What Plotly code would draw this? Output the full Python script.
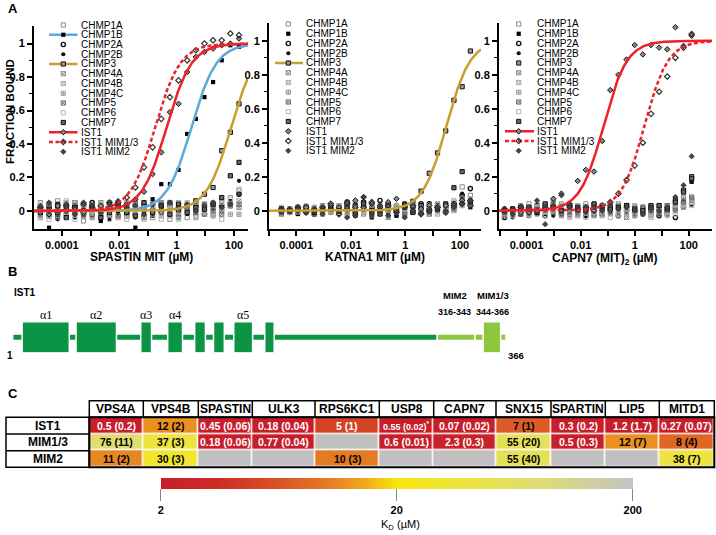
import numpy as np
import plotly.graph_objects as go

W, H = 716, 535
FONT = "Liberation Sans, Arial, sans-serif"
SERIF = "Liberation Serif, Times New Roman, serif"

# ---------------- Panel A data ----------------
series_names = ["CHMP1A", "CHMP1B", "CHMP2A", "CHMP2B", "CHMP3", "CHMP4A", "CHMP4B",
                "CHMP4C", "CHMP5", "CHMP6", "CHMP7", "IST1", "IST1 MIM1/3", "IST1 MIM2"]

conc_spastin = [1.79e-05, 3.58e-05, 7.15e-05, 0.000143, 0.000286, 0.000572, 0.00114, 0.00229,
                0.00458, 0.00916, 0.0183, 0.0366, 0.0732, 0.146, 0.293, 0.586, 1.17, 2.34,
                4.69, 9.38, 18.75, 37.5, 75.0, 150.0]
conc_katna1 = [2.86e-05, 5.72e-05, 0.000114, 0.000229, 0.000458, 0.000916, 0.00183, 0.00366,
               0.00732, 0.0146, 0.0293, 0.0586, 0.117, 0.234, 0.469, 0.9375, 1.875, 3.75,
               7.5, 15.0, 30.0, 60.0, 120.0, 240.0]
conc_capn7 = [1.53e-05, 3.05e-05, 6.1e-05, 0.000122, 0.000244, 0.000488, 0.000977, 0.00195,
              0.0039, 0.0078, 0.0156, 0.03125, 0.0625, 0.125, 0.25, 0.5, 1.0, 2.0, 4.0, 8.0,
              16.0, 32.0, 64.0, 128.0]

# SPASTIN MIT
sp_chmp1a = [0.05, 0.04, 0.06, 0.03, 0.05, -0.06, 0.04, 0.03, 0.05, 0.04, -0.03, 0.02, 0.04, -0.04, 0.05, -0.05, 0.03, -0.04, -0.03, 0.04, 0.02, 0.06, 0.08, 0.12]
sp_chmp1b = [0.0, -0.1, -0.02, 0.01, -0.03, 0.0, -0.01, -0.06, 0.02, 0.0, 0.03, -0.1, 0.0, 0.07, 0.16, 0.16, 0.245, 0.46, 0.55, 0.68, 0.77, 0.9, 0.99, 0.98]
sp_chmp2a = [0.02, -0.03, 0.04, 0.0, 0.03, -0.02, 0.05, 0.01, -0.03, 0.04, 0.02, -0.02, 0.03, 0.01, -0.01, 0.04, 0.0, 0.02, 0.03, -0.02, 0.04, 0.03, 0.05, 0.1]
sp_chmp2b = [-0.03, -0.01, -0.05, 0.02, -0.04, 0.01, -0.03, 0.0, -0.05, -0.02, 0.01, -0.04, 0.0, -0.03, 0.02, -0.01, 0.01, -0.02, 0.0, 0.02, 0.01, 0.03, 0.06, 0.18]
sp_chmp3 = [0.01, 0.03, -0.02, 0.02, 0.0, 0.03, -0.02, 0.01, 0.04, 0.02, -0.01, 0.03, 0.02, 0.0, 0.04, 0.03, 0.01, 0.03, 0.06, 0.1, 0.14, 0.36, 0.47, 0.64]
sp_chmp4a = [-0.02, 0.04, 0.01, -0.03, 0.05, 0.02, -0.04, 0.05, 0.0, 0.03, -0.03, 0.04, 0.01, -0.02, 0.05, 0.0, -0.03, 0.04, 0.01, -0.02, 0.03, 0.0, 0.04, 0.02]
sp_chmp4b = [0.03, -0.03, 0.02, 0.05, -0.02, 0.04, 0.02, -0.03, 0.03, -0.04, 0.04, 0.0, -0.03, 0.04, 0.02, -0.03, 0.05, 0.01, -0.04, 0.03, -0.02, 0.05, 0.03, 0.06]
sp_chmp4c = [-0.04, 0.0, 0.03, -0.02, 0.01, 0.04, -0.01, 0.02, -0.02, 0.01, 0.05, -0.02, 0.02, 0.04, -0.03, 0.02, -0.02, 0.0, 0.04, 0.01, -0.03, 0.01, -0.02, -0.02]
sp_chmp5 = [0.01, 0.02, -0.04, 0.04, -0.01, -0.03, 0.03, -0.02, 0.01, -0.03, 0.0, 0.05, -0.04, 0.02, 0.0, 0.05, -0.04, 0.02, -0.01, 0.04, 0.0, -0.02, 0.03, 0.04]
sp_chmp6 = [0.04, -0.05, 0.0, 0.06, -0.05, 0.03, 0.0, 0.04, -0.05, 0.02, -0.05, 0.01, -0.05, 0.03, -0.05, 0.01, -0.05, 0.05, -0.04, 0.0, 0.05, -0.05, 0.07, 0.13]
sp_chmp7 = [-0.01, 0.01, 0.03, -0.04, 0.02, 0.0, 0.02, -0.04, -0.01, 0.03, -0.01, -0.03, 0.05, -0.01, 0.03, -0.02, 0.04, -0.01, 0.02, 0.01, 0.04, 0.08, 0.21, 0.29]
sp_ist1 = [0.01, -0.02, 0.03, 0.0, 0.02, -0.01, 0.03, 0.0, 0.02, 0.01, 0.04, 0.07, 0.115, 0.22, 0.35, 0.59, 0.64, 0.83, 0.92, 0.95, 0.97, 0.99, 1.0, 1.03]
sp_mim13 = [0.02, 0.0, -0.01, 0.03, 0.01, 0.04, 0.02, 0.03, 0.05, 0.05, 0.08, 0.14, 0.26, 0.38, 0.55, 0.68, 0.78, 0.9, 0.96, 1.0, 1.02, 1.02, 1.06, 1.05]
sp_mim2 = [0.03, 0.05, 0.0, 0.04, -0.02, 0.05, 0.03, -0.01, 0.04, 0.06, 0.02, 0.03, -0.02, 0.04, 0.03, 0.05, 0.02, 0.04, 0.0, 0.03, 0.05, 0.02, 0.04, 0.1]

# KATNA1 MIT
ka_chmp1a = [0.01, 0.0, 0.02, 0.01, 0.0, 0.03, 0.02, 0.03, 0.01, 0.04, -0.01, 0.02, 0.0, 0.03, -0.02, 0.02, 0.03, 0.01, 0.02, 0.0, 0.03, 0.05, 0.14, 0.09]
ka_chmp1b = [-0.01, 0.0, -0.02, 0.01, -0.01, 0.0, 0.01, -0.02, 0.0, -0.03, 0.01, -0.04, 0.0, -0.02, -0.03, 0.0, 0.01, -0.01, 0.02, 0.0, -0.01, 0.03, 0.06, 0.02]
ka_chmp2a = [0.0, -0.01, 0.01, 0.0, -0.02, 0.01, -0.01, 0.02, 0.05, 0.03, 0.05, 0.02, 0.06, 0.04, 0.03, 0.04, -0.01, 0.04, 0.04, 0.03, 0.02, 0.04, 0.09, 0.13]
ka_chmp2b = [0.0, 0.01, 0.0, -0.01, 0.01, 0.0, 0.02, 0.0, -0.01, 0.02, 0.0, -0.02, 0.01, 0.0, -0.02, 0.01, 0.0, 0.02, 0.01, 0.0, 0.02, 0.04, 0.1, 0.03]
ka_chmp3 = [0.0, 0.01, 0.0, 0.02, 0.01, 0.0, 0.02, 0.01, 0.03, 0.0, 0.02, 0.01, 0.0, 0.02, 0.01, 0.03, 0.055, 0.115, 0.22, 0.34, 0.47, 0.65, 0.73, 0.94]
ka_chmp4a = [0.01, -0.01, 0.02, 0.0, 0.01, -0.02, 0.03, 0.0, -0.03, 0.02, -0.02, 0.03, 0.0, -0.04, 0.02, -0.01, 0.03, 0.0, -0.01, 0.04, 0.0, 0.02, 0.04, 0.06]
ka_chmp4b = [-0.01, 0.01, -0.01, 0.02, 0.0, 0.01, -0.01, 0.03, 0.0, -0.02, 0.03, -0.01, 0.02, 0.0, 0.03, -0.03, 0.01, 0.02, 0.0, -0.02, 0.01, 0.0, 0.05, 0.04]
ka_chmp4c = [0.0, 0.0, 0.01, -0.01, 0.02, 0.0, -0.01, 0.01, 0.02, 0.0, -0.01, 0.0, 0.03, 0.0, -0.01, 0.0, 0.02, -0.01, 0.01, 0.02, 0.0, 0.03, 0.03, 0.05]
ka_chmp5 = [-0.02, 0.0, -0.01, 0.0, -0.02, 0.02, 0.0, -0.01, 0.02, -0.01, 0.01, -0.03, 0.02, 0.01, 0.0, -0.02, 0.02, 0.0, -0.02, 0.01, 0.03, 0.01, 0.07, 0.05]
ka_chmp6 = [0.02, 0.01, 0.0, 0.03, 0.0, 0.02, 0.0, -0.01, 0.03, 0.01, 0.0, 0.04, -0.01, 0.02, 0.0, 0.01, 0.02, 0.01, 0.03, 0.02, 0.0, 0.06, 0.03, 0.07]
ka_chmp7 = [0.01, 0.0, 0.01, 0.02, -0.01, 0.01, 0.01, 0.0, 0.02, -0.02, 0.04, 0.0, -0.02, 0.03, 0.0, 0.02, -0.01, 0.03, 0.0, 0.01, 0.04, 0.135, 0.23, 0.05]
ka_ist1 = [0.0, 0.01, 0.0, 0.02, 0.01, 0.0, 0.03, 0.02, 0.05, 0.06, 0.08, 0.04, 0.02, 0.05, 0.07, 0.03, 0.02, 0.01, 0.03, 0.02, 0.03, 0.04, 0.06, 0.06]
ka_mim13 = [0.01, 0.0, 0.02, -0.01, 0.0, 0.02, 0.04, -0.02, 0.04, 0.02, 0.02, 0.05, 0.0, 0.03, -0.01, 0.02, 0.03, -0.02, 0.0, 0.02, -0.01, 0.03, 0.04, 0.03]
ka_mim2 = [-0.01, 0.0, 0.01, -0.01, 0.0, -0.02, 0.01, 0.0, -0.04, -0.03, 0.08, -0.02, 0.03, -0.03, 0.0, -0.04, 0.0, -0.02, 0.01, 0.02, 0.0, 0.02, 0.04, 0.06]

# CAPN7 (MIT)2
ca_chmp1a = [-0.02, 0.0, 0.03, 0.04, -0.01, 0.03, 0.02, 0.04, 0.0, 0.02, 0.04, -0.01, 0.03, 0.0, 0.04, 0.03, 0.02, 0.01, 0.0, 0.03, 0.0, 0.02, 0.05, 0.07]
ca_chmp1b = [-0.03, -0.02, -0.01, -0.03, 0.0, -0.02, 0.01, -0.01, -0.02, 0.0, -0.03, 0.01, 0.0, -0.02, 0.01, -0.01, 0.0, 0.02, 0.0, -0.01, 0.02, 0.05, 0.11, 0.17]
ca_chmp2a = [-0.04, -0.03, 0.0, -0.02, 0.01, -0.03, 0.0, -0.02, 0.02, -0.01, -0.03, 0.0, -0.02, 0.01, -0.03, 0.0, -0.01, -0.02, 0.0, -0.03, -0.02, -0.04, 0.02, 0.04]
ca_chmp2b = [-0.02, -0.04, -0.02, 0.0, -0.02, 0.0, -0.03, 0.0, -0.01, -0.02, 0.0, -0.01, 0.0, -0.02, 0.0, 0.0, -0.02, 0.0, -0.01, -0.02, 0.0, 0.0, 0.06, 0.17]
ca_chmp3 = [-0.01, 0.0, -0.02, 0.02, 0.03, 0.01, 0.04, 0.03, 0.02, 0.0, 0.02, 0.03, -0.01, 0.04, 0.02, 0.03, 0.0, 0.02, 0.03, 0.01, 0.0, 0.06, 0.12, 0.2]
ca_chmp4a = [-0.02, 0.01, -0.01, 0.0, 0.02, -0.01, 0.05, -0.03, 0.03, -0.02, 0.01, -0.03, 0.02, -0.01, 0.03, -0.04, 0.02, 0.0, -0.02, 0.02, 0.01, 0.03, 0.08, 0.06]
ca_chmp4b = [0.0, -0.02, 0.01, -0.03, 0.0, 0.02, 0.03, 0.01, -0.02, 0.03, -0.01, 0.02, -0.03, 0.03, 0.0, -0.02, 0.03, -0.02, 0.01, -0.01, 0.03, 0.01, 0.04, 0.05]
ca_chmp4c = [-0.03, -0.01, 0.0, 0.01, -0.02, 0.0, 0.02, 0.0, 0.01, -0.03, 0.02, 0.0, -0.02, 0.02, -0.03, 0.01, -0.02, 0.02, -0.03, 0.0, -0.02, 0.02, 0.03, 0.06]
ca_chmp5 = [-0.01, -0.02, 0.02, -0.01, 0.01, 0.03, -0.01, 0.02, -0.03, 0.01, 0.0, -0.02, 0.01, 0.02, -0.02, 0.02, -0.03, 0.01, 0.02, -0.02, 0.03, 0.0, 0.05, 0.08]
ca_chmp6 = [0.01, -0.03, 0.0, -0.02, 0.04, -0.03, 0.0, 0.03, -0.04, 0.02, -0.04, -0.01, 0.0, -0.04, -0.02, 0.01, -0.03, -0.01, -0.04, 0.02, -0.03, -0.02, 0.02, 0.03]
ca_chmp7 = [0.0, 0.01, 0.02, 0.01, -0.01, 0.04, 0.02, 0.0, 0.03, 0.02, 0.01, 0.04, 0.02, 0.01, 0.02, 0.03, 0.01, 0.0, 0.02, 0.03, 0.01, 0.05, 0.11, 0.19]
ca_ist1 = [0.0, 0.01, -0.01, 0.02, 0.0, 0.02, 0.07, 0.1, 0.04, 0.175, 0.24, 0.23, 0.41, 0.71, 0.8, 0.89, 0.975, 0.92, 0.975, 0.96, 0.95, 1.08, 0.97, 1.03]
ca_mim13 = [0.01, 0.0, 0.02, -0.01, 0.0, 0.01, 0.02, 0.0, 0.03, 0.01, 0.02, 0.0, 0.03, 0.05, 0.1, 0.18, 0.265, 0.4, 0.57, 0.7, 0.79, 0.9, 0.96, 1.04]
ca_mim2 = [0.0, -0.02, 0.02, 0.01, 0.06, -0.08, 0.03, 0.09, 0.02, 0.0, -0.01, 0.02, 0.0, 0.03, 0.01, 0.02, 0.0, -0.02, 0.01, 0.0, 0.02, 0.08, 0.15, 0.32]

# Kd values of the fitted binding curves (uM)
fit_kd_spastin = {"CHMP1B": 3.3, "CHMP3": 80.0, "IST1": 0.45, "IST1 MIM1/3": 0.18}
fit_kd_katna1 = {"CHMP3": 32.0}
fit_kd_capn7 = {"IST1": 0.07, "IST1 MIM1/3": 2.3}

labeled_decades = [1e-4, 1e-2, 1, 100]
labeled_decade_text = ["0.0001", "0.01", "1", "100"]
other_decades = [1e-5, 1e-3, 1e-1, 10]
y_tick_vals = [0, 0.2, 0.4, 0.6, 0.8, 1.0]
y_tick_text = ["0", "0.2", "0.4", "0.6", "0.8", "1"]

# ---------------- Panel B data ----------------
ist1_length = 366
helix_starts = [8, 48, 96, 116, 136, 150, 165, 188]
helix_ends = [42, 77, 103, 126, 143, 157, 178, 194]
helix_labels = ["α1", "α2", "α3", "α4", "", "", "α5", ""]
mim2_range = [316, 343]
mim13_range = [344, 366]
mim13_box = [350, 362]

# ---------------- Panel C data ----------------
kd_columns = ["VPS4A", "VPS4B", "SPASTIN", "ULK3", "RPS6KC1", "USP8", "CAPN7", "SNX15",
              "SPARTIN", "LIP5", "MITD1"]
kd_rows = ["IST1", "MIM1/3", "MIM2"]
kd_ist1 = [0.5, 12, 0.45, 0.18, 5, 0.55, 0.07, 7, 0.3, 1.2, 0.27]
kd_ist1_err = [0.2, 2, 0.06, 0.04, 1, 0.02, 0.02, 1, 0.2, 1.7, 0.07]
kd_mim13 = [76, 37, 0.18, 0.77, None, 0.6, 2.3, 55, 0.5, 12, 8]
kd_mim13_err = [11, 3, 0.06, 0.04, None, 0.01, 0.3, 20, 0.3, 7, 4]
kd_mim2 = [11, 30, None, None, 10, None, None, 55, None, None, 38]
kd_mim2_err = [2, 3, None, None, 3, None, None, 40, None, None, 7]
colorbar_ticks = [2, 20, 200]

# ---------------- styles ----------------
RED = "#ee2128"
BLUE = "#5ba8dc"
GOLD = "#c6a02c"
MS = 4.2
marker_styles = {
    "CHMP1A": dict(symbol="square-open", color="#8a8a8a", line=dict(width=1)),
    "CHMP1B": dict(symbol="square", color="#000000"),
    "CHMP2A": dict(symbol="circle-open", color="#111111", line=dict(width=1.4)),
    "CHMP2B": dict(symbol="circle", color="#111111"),
    "CHMP3": dict(symbol="square", color="#9a9a9a", line=dict(color="#111111", width=1)),
    "CHMP4A": dict(symbol="square-x-open", color="#8a8a8a", line=dict(width=1)),
    "CHMP4B": dict(symbol="square-x-open", color="#a8a8a8", line=dict(width=1)),
    "CHMP4C": dict(symbol="square-cross-open", color="#999999", line=dict(width=1)),
    "CHMP5": dict(symbol="square-x-open", color="#6a6a6a", line=dict(width=1)),
    "CHMP6": dict(symbol="square-open", color="#b4b4b4", line=dict(width=1)),
    "CHMP7": dict(symbol="square", color="#666666", line=dict(color="#111111", width=1)),
    "IST1": dict(symbol="diamond", color="#888888", line=dict(color="#111111", width=1)),
    "IST1 MIM1/3": dict(symbol="diamond-open", color="#333333", line=dict(width=1.2)),
    "IST1 MIM2": dict(symbol="diamond", color="#444444", line=dict(color="#111111", width=0.5)),
}
curve_styles = {
    "CHMP1B": dict(color=BLUE, width=2.5),
    "CHMP3": dict(color=GOLD, width=2.5),
    "IST1": dict(color=RED, width=2.5),
    "IST1 MIM1/3": dict(color=RED, width=2.5, dash="4px,2.5px"),
}


def px_x(px):
    return px / W


def px_y(py):
    return 1 - py / H


panels = [
    dict(conc=conc_spastin,
         values=dict(zip(series_names, [sp_chmp1a, sp_chmp1b, sp_chmp2a, sp_chmp2b, sp_chmp3, sp_chmp4a,
                                        sp_chmp4b, sp_chmp4c, sp_chmp5, sp_chmp6, sp_chmp7, sp_ist1,
                                        sp_mim13, sp_mim2])),
         fits=fit_kd_spastin, xr=[-4.97, 2.49], dx=(34, 248), dy=(229, 26),
         leg=dict(y0=25, dy=9.75, mx=63.3, lx0=49, lx1=77.5, tx=78.5),
         title="SPASTIN MIT (µM)", tx=141, ty=257),
    dict(conc=conc_katna1,
         values=dict(zip(series_names, [ka_chmp1a, ka_chmp1b, ka_chmp2a, ka_chmp2b, ka_chmp3, ka_chmp4a,
                                        ka_chmp4b, ka_chmp4c, ka_chmp5, ka_chmp6, ka_chmp7, ka_ist1,
                                        ka_mim13, ka_mim2])),
         fits=fit_kd_katna1, xr=[-5.0, 2.77], dx=(269, 481), dy=(229, 23),
         leg=dict(y0=24, dy=9.75, mx=288.3, lx0=275, lx1=303, tx=304),
         title="KATNA1 MIT (µM)", tx=375, ty=257),
    dict(conc=conc_capn7,
         values=dict(zip(series_names, [ca_chmp1a, ca_chmp1b, ca_chmp2a, ca_chmp2b, ca_chmp3, ca_chmp4a,
                                        ca_chmp4b, ca_chmp4c, ca_chmp5, ca_chmp6, ca_chmp7, ca_ist1,
                                        ca_mim13, ca_mim2])),
         fits=fit_kd_capn7, xr=[-5.02, 2.86], dx=(499, 712), dy=(229, 23),
         leg=dict(y0=24, dy=9.75, mx=518.7, lx0=505, lx1=534, tx=535),
         title="CAPN7 (MIT)<sub>2</sub> (µM)", tx=605, ty=259),
]

fig = go.Figure()
layout_axes = {}
annotations = []
shapes = []


def ann(text, x, y, size=11, bold=False, xanchor="center", yanchor="middle", color="black",
        family=FONT, angle=0):
    return dict(text=text, x=px_x(x), y=px_y(y), xref="paper", yref="paper", showarrow=False,
                font=dict(size=size, color=color, family=family, weight="bold" if bold else "normal"),
                xanchor=xanchor, yanchor=yanchor, textangle=angle)


tickfont = dict(family=FONT, size=11, color="black", weight="bold")
for i, p in enumerate(panels):
    sfx = "" if i == 0 else str(i + 1)
    xa, ya = "x" + sfx, "y" + sfx
    layout_axes["xaxis" + sfx] = dict(
        domain=[px_x(p["dx"][0]), px_x(p["dx"][1])], anchor=ya, type="log", range=p["xr"],
        showline=True, linecolor="black", linewidth=2, ticks="outside", ticklen=5, tickwidth=1.5,
        tickcolor="black", tickvals=labeled_decades, ticktext=labeled_decade_text, tickfont=tickfont,
        showgrid=False, zeroline=False,
        minor=dict(tickvals=other_decades, ticks="outside", ticklen=5, tickwidth=1.5,
                   tickcolor="black", showgrid=False))
    layout_axes["yaxis" + sfx] = dict(
        domain=[px_y(p["dy"][0]), px_y(p["dy"][1])], anchor=xa, range=[-0.108, 1.105],
        showline=True, linecolor="black", linewidth=2, ticks="outside", ticklen=5, tickwidth=1.5,
        tickcolor="black", tickvals=y_tick_vals, ticktext=y_tick_text, tickfont=tickfont,
        showgrid=False, zeroline=False,
        minor=dict(tickvals=[0.1, 0.3, 0.5, 0.7, 0.9], ticks="outside", ticklen=3, tickwidth=1,
                   tickcolor="black", showgrid=False))
    # data points
    for name in series_names:
        st = dict(marker_styles[name])
        st.setdefault("size", MS)
        fig.add_trace(go.Scatter(x=p["conc"], y=p["values"][name], mode="markers", marker=st,
                                 xaxis=xa, yaxis=ya, showlegend=False, hoverinfo="skip"))
    # fitted binding curves
    xs = np.logspace(p["xr"][0], p["xr"][1], 300)
    for name, kd in p["fits"].items():
        fig.add_trace(go.Scatter(x=xs, y=xs / (kd + xs), mode="lines", line=curve_styles[name],
                                 xaxis=xa, yaxis=ya, showlegend=False, hoverinfo="skip"))
    # legend (drawn on the pixel overlay axis)
    lg = p["leg"]
    for j, name in enumerate(series_names):
        yy = lg["y0"] + j * lg["dy"]
        if name in p["fits"]:
            fig.add_trace(go.Scatter(x=[lg["lx0"], lg["lx1"]], y=[yy, yy], mode="lines",
                                     line=curve_styles[name], xaxis="x4", yaxis="y4",
                                     showlegend=False, hoverinfo="skip"))
        st = dict(marker_styles[name])
        st.setdefault("size", MS)
        fig.add_trace(go.Scatter(x=[lg["mx"]], y=[yy], mode="markers", marker=st, xaxis="x4",
                                 yaxis="y4", showlegend=False, hoverinfo="skip"))
        annotations.append(ann(name, lg["tx"], yy, size=10, xanchor="left"))
    annotations.append(ann(p["title"], p["tx"], p["ty"], size=12, bold=True))

annotations.append(ann("FRACTION BOUND", 10, 112, size=11.5, bold=True, angle=-90))
annotations.append(ann("A", 6, 9, size=13, bold=True, xanchor="left"))
annotations.append(ann("B", 6, 271, size=13, bold=True, xanchor="left"))
annotations.append(ann("C", 6, 393, size=13, bold=True, xanchor="left"))

# pixel overlay axis
layout_axes["xaxis4"] = dict(domain=[0, 1], range=[0, W], visible=False, anchor="y4", fixedrange=True)
layout_axes["yaxis4"] = dict(domain=[0, 1], range=[H, 0], visible=False, anchor="x4", fixedrange=True)

# ---------------- Panel B: domain diagram ----------------
DARK = "#0b9444"
LIGHT = "#8dc63f"
layout_axes["xaxis5"] = dict(domain=[px_x(12.7), px_x(506)], range=[0.5, ist1_length + 0.5],
                             visible=False, anchor="y5")
layout_axes["yaxis5"] = dict(domain=[px_y(352.7), px_y(321.7)], range=[0, 1], visible=False,
                             anchor="x5")
thin = 0.21
seg_starts = [1, mim2_range[0], mim13_range[0]]
seg_ends = [mim2_range[0] - 1, mim2_range[1], mim13_range[1]]
seg_cols = [DARK, LIGHT, LIGHT]
fig.add_trace(go.Bar(orientation="h", y=[0.5] * 3, base=[s - 0.5 for s in seg_starts],
                     x=[e - s + 1 for s, e in zip(seg_starts, seg_ends)], width=[thin] * 3,
                     marker=dict(color=seg_cols, line=dict(color="white", width=1.5)),
                     xaxis="x5", yaxis="y5", showlegend=False, hoverinfo="skip"))
fig.add_trace(go.Bar(orientation="h", y=[0.5] * len(helix_starts), base=[s - 0.5 for s in helix_starts],
                     x=[e - s + 1 for s, e in zip(helix_starts, helix_ends)],
                     width=[1.0] * len(helix_starts),
                     marker=dict(color=DARK, line=dict(color="white", width=1.5)),
                     xaxis="x5", yaxis="y5", showlegend=False, hoverinfo="skip"))
fig.add_trace(go.Bar(orientation="h", y=[0.5], base=[mim13_box[0] - 0.5],
                     x=[mim13_box[1] - mim13_box[0] + 1], width=[1.0],
                     marker=dict(color=LIGHT, line=dict(color="white", width=1.5)),
                     xaxis="x5", yaxis="y5", showlegend=False, hoverinfo="skip"))
for s, e, lab in zip(helix_starts, helix_ends, helix_labels):
    if lab:
        annotations.append(dict(text=lab, x=(s + e) / 2, y=px_y(315), xref="x5", yref="paper",
                                showarrow=False, font=dict(size=12, family=SERIF, color="black"),
                                xanchor="center", yanchor="middle"))
annotations.append(ann("IST1", 12, 292, size=10, bold=True, xanchor="left"))
annotations.append(ann("1", 10, 355, size=10, bold=True))
annotations.append(ann(str(ist1_length), 516, 355, size=9.5, bold=True))
annotations.append(ann("MIM2", 455, 295, size=9.5, bold=True))
annotations.append(ann(f"{mim2_range[0]}-{mim2_range[1]}", 454.5, 311.7, size=9, bold=True))
annotations.append(ann("MIM1/3", 493.3, 295, size=9.5, bold=True))
annotations.append(ann(f"{mim13_range[0]}-{mim13_range[1]}", 492.8, 311.7, size=9, bold=True))

# ---------------- Panel C: Kd table ----------------
col_edges = [89.3, 143.3, 198.3, 252.3, 315, 379.3, 433.7, 496, 551, 605.3, 659.3, 714.3]
row_edges = [417.3, 434, 450.7, 467.3]
header_top = 400.7
label_left = 6
kd_table = [kd_ist1, kd_mim13, kd_mim2]
err_table = [kd_ist1_err, kd_mim13_err, kd_mim2_err]

z = [[np.log10(v) if v is not None else None for v in row] for row in kd_table]
missing = [[1 if v is None else None for v in row] for row in kd_table]
colorscale = [[0.0, "#c81e2b"], [0.12, "#cd2c25"], [0.25, "#da5226"], [0.35, "#e57a24"],
              [0.43, "#efa81c"], [0.5, "#f8e40f"], [0.62, "#eee53a"], [0.8, "#dedc74"],
              [1.0, "#c4c4c4"]]
fig.add_trace(go.Heatmap(x=col_edges, y=row_edges, z=missing, colorscale=[[0, "#c0c0c0"], [1, "#c0c0c0"]],
                         showscale=False, xgap=1.5, ygap=1.5, xaxis="x4", yaxis="y4",
                         hoverinfo="skip"))
fig.add_trace(go.Heatmap(
    x=col_edges, y=row_edges, z=z, colorscale=colorscale,
    zmin=np.log10(colorbar_ticks[0]), zmax=np.log10(colorbar_ticks[-1]),
    xgap=1.5, ygap=1.5, xaxis="x4", yaxis="y4", hoverinfo="skip",
    colorbar=dict(orientation="h", x=px_x((160.7 + 632.7) / 2), xanchor="center",
                  y=px_y(477.5), yanchor="top", len=(632.7 - 160.7) / W, lenmode="fraction",
                  thickness=11, thicknessmode="pixels", outlinewidth=0, xpad=0, ypad=0,
                  ticks="outside", ticklen=12, tickwidth=1, tickcolor="#888888",
                  tickvals=[np.log10(t) for t in colorbar_ticks],
                  ticktext=[str(t) for t in colorbar_ticks],
                  tickfont=dict(family=FONT, size=11, color="black", weight="bold"))))
annotations.append(ann("K<sub>D</sub> (µM)", 400, 525, size=11))

# table borders
shapes.append(dict(type="rect", xref="x4", yref="y4", x0=col_edges[0], x1=col_edges[-1],
                   y0=header_top, y1=row_edges[0], line=dict(color="black", width=1.5)))
for xe in col_edges[1:-1]:
    shapes.append(dict(type="line", xref="x4", yref="y4", x0=xe, x1=xe, y0=header_top,
                       y1=row_edges[0], line=dict(color="black", width=1.5)))
shapes.append(dict(type="rect", xref="x4", yref="y4", x0=label_left, x1=col_edges[0],
                   y0=row_edges[0], y1=row_edges[-1], line=dict(color="black", width=1.5)))
for ye in row_edges[1:-1]:
    shapes.append(dict(type="line", xref="x4", yref="y4", x0=label_left, x1=col_edges[0], y0=ye,
                       y1=ye, line=dict(color="black", width=1.5)))
shapes.append(dict(type="rect", xref="x4", yref="y4", x0=col_edges[0], x1=col_edges[-1],
                   y0=row_edges[0], y1=row_edges[-1], line=dict(color="black", width=2)))

for c, name in enumerate(kd_columns):
    cx = (col_edges[c] + col_edges[c + 1]) / 2
    annotations.append(ann(name, cx, (header_top + row_edges[0]) / 2, size=12, bold=True))
for r, name in enumerate(kd_rows):
    cy = (row_edges[r] + row_edges[r + 1]) / 2
    annotations.append(ann(name, (label_left + col_edges[0]) / 2, cy, size=12, bold=True))
    for c in range(len(kd_columns)):
        v, e = kd_table[r][c], err_table[r][c]
        if v is None:
            continue
        cx = (col_edges[c] + col_edges[c + 1]) / 2
        txt = f"{v:g} ({e:g})"
        size = 10.5
        if kd_rows[r] == "IST1" and kd_columns[c] == "USP8":
            txt += "<sup>*</sup>"
            size = 9
        col = "white" if v < 6 else "black"
        annotations.append(ann(txt, cx, cy, size=size, bold=True, color=col))

fig.update_layout(
    width=W, height=H, margin=dict(l=0, r=0, t=0, b=0),
    paper_bgcolor="white", plot_bgcolor="rgba(0,0,0,0)",
    font=dict(family=FONT, color="black"),
    barmode="overlay", showlegend=False,
    annotations=annotations, shapes=shapes, **layout_axes)

fig.write_html("out.html", config={"displayModeBar": False},
               post_script="document.body.style.margin='0px';document.body.style.padding='0px';")
